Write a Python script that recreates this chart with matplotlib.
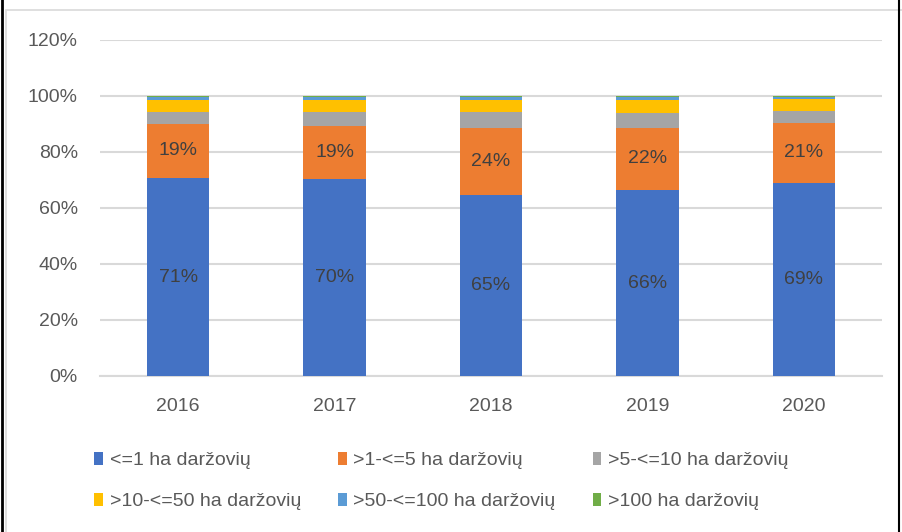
import matplotlib
matplotlib.use('Agg')
import matplotlib.pyplot as plt
from matplotlib.patches import Patch, Rectangle
from matplotlib.lines import Line2D
import numpy as np

plt.rcParams['font.family'] = ['Liberation Sans', 'DejaVu Sans']

metai = ['2016', '2017', '2018', '2019', '2020']
grupes = ['<=1 ha daržovių', '>1-<=5 ha daržovių', '>5-<=10 ha daržovių',
          '>10-<=50 ha daržovių', '>50-<=100 ha daržovių', '>100 ha daržovių']
# shares in percent, one list per group
iki_1 = [70.7, 70.3, 64.7, 66.4, 69.0]
nuo_1_iki_5 = [19.4, 18.9, 23.9, 22.3, 21.4]
nuo_5_iki_10 = [4.2, 5.1, 5.7, 5.3, 4.4]
nuo_10_iki_50 = [4.2, 4.2, 4.2, 4.4, 4.0]
nuo_50_iki_100 = [1.1, 1.1, 1.1, 1.2, 0.9]
virs_100 = [0.4, 0.4, 0.4, 0.4, 0.3]
spalvos = ['#4472C4', '#ED7D31', '#A5A5A5', '#FFC000', '#5B9BD5', '#70AD47']

serijos = [iki_1, nuo_1_iki_5, nuo_5_iki_10, nuo_10_iki_50, nuo_50_iki_100, virs_100]

fig = plt.figure(figsize=(9.02, 5.32), dpi=100)
ax = fig.add_axes([100/902, 1-376/532, 782/902, 336/532])

x = np.arange(len(metai))
apacia = np.zeros(len(metai))
for i, s in enumerate(serijos):
    v = np.array(s) / 100
    ax.bar(x, v, width=0.4, bottom=apacia, color=spalvos[i], zorder=3)
    if i < 2:
        for xi, b, h in zip(x, apacia, v):
            ax.text(xi, b + h/2, f'{h*100:.0f}%', ha='center', va='center',
                    fontsize=14, color='#404040', zorder=4)
    apacia = apacia + v

ax.set_xlim(-0.5, 4.5)
ax.set_ylim(0, 1.2)
ax.set_yticks(np.arange(0, 1.21, 0.2))
ax.set_yticklabels([f'{int(round(t*100))}%' for t in np.arange(0, 1.21, 0.2)])
ax.set_xticks(x)
ax.set_xticklabels(metai)
ax.tick_params(axis='y', length=0, pad=16, labelsize=14, labelcolor='#595959')
ax.tick_params(axis='x', length=0, pad=16, labelsize=14, labelcolor='#595959')
ax.grid(axis='y', color='#d9d9d9', linewidth=1.5, zorder=0)
for sp in ['top', 'right', 'left']:
    ax.spines[sp].set_visible(False)
ax.spines['bottom'].set_color('#d9d9d9')
ax.spines['bottom'].set_linewidth(1.5)

# legend is filled row by row, so reorder for matplotlib's column filling
tvarka = [0, 3, 1, 4, 2, 5]
rankenos = [Patch(facecolor=spalvos[k], edgecolor='none') for k in tvarka]
fig.legend(rankenos, [grupes[k] for k in tvarka], ncol=3, loc='center left',
           bbox_to_anchor=(94/902, 1-481/532), frameon=False, fontsize=14,
           labelcolor='#595959', handlelength=0.45, handleheight=0.7,
           handletextpad=0.35, columnspacing=1.9, labelspacing=1.2,
           borderpad=0, borderaxespad=0)

# chart frame and page border
fig.patches.append(Rectangle((6/902, -0.05), 1.0, 1-10/532+0.05, transform=fig.transFigure,
                             fill=False, edgecolor='#d9d9d9', linewidth=1.2))
fig.lines.append(Line2D([2/902, 2/902], [0, 1], transform=fig.transFigure,
                        color='black', linewidth=2))
fig.lines.append(Line2D([899/902, 899/902], [0, 1], transform=fig.transFigure,
                        color='black', linewidth=1.5))

fig.savefig('out.png', dpi=100)
